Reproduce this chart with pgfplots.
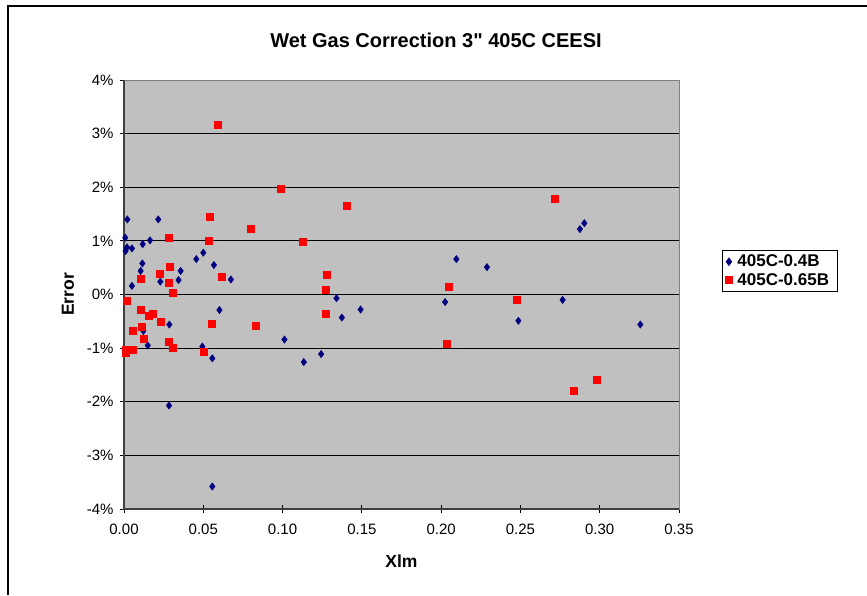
\documentclass[border=0pt]{standalone}
\usepackage{pgfplots}
\pgfplotsset{compat=1.18}
\usepackage{fontspec}
\setmainfont{Liberation Sans}[Ligatures=TeXOff]
\definecolor{plotbg}{HTML}{C0C0C0}
\definecolor{navyblue}{HTML}{000080}
\definecolor{borderg}{HTML}{808080}
\begin{document}
\begin{tikzpicture}
\useasboundingbox (0pt,0pt) rectangle (867pt,-595pt);
\draw[line width=2pt] (8pt,-595pt) -- (8pt,-6pt) -- (867pt,-6pt);
\node[font=\fontsize{20}{24}\selectfont\bfseries] at (436pt,-40pt) {Wet Gas Correction 3" 405C CEESI};
\begin{axis}[
  at={(124pt,-509pt)}, anchor=south west,
  scale only axis, width=555pt, height=429pt,
  xmin=0, xmax=0.35, ymin=-4, ymax=4,
  xtick={0,0.05,...,0.35}, ytick={-4,-3,...,4},
  xtick pos=bottom, ytick pos=left,
  tick align=center, major tick length=8pt,
  tick style={black, line width=0.8pt},
  axis background/.style={fill=plotbg},
  axis line style={draw=borderg, line width=1pt},
  ymajorgrids, major grid style={black, line width=0.9pt},
  /pgf/number format/assume math mode=true,
  ticklabel style={font=\fontsize{15}{18}\selectfont},
  xticklabel style={yshift=-7pt},
  yticklabel style={xshift=-3pt},
  xticklabel={\pgfmathprintnumber[fixed,fixed zerofill,precision=2]{\tick}},
  yticklabel={\pgfmathprintnumber[fixed,precision=0]{\tick}\%},
  xlabel={Xlm}, ylabel={Error},
  label style={font=\fontsize{17.5}{20}\selectfont\bfseries},
  xlabel style={at={(axis description cs:0.5,-0.121)}, anchor=center},
  ylabel style={at={(axis description cs:-0.101,0.5)}, anchor=center},
  legend style={at={(axis description cs:1.0775,0.555)}, anchor=west,
    draw=black, line width=0.8pt, fill=white, font=\fontsize{17}{20}\selectfont\bfseries,
    inner xsep=3pt, inner ysep=3pt, row sep=1pt,
    nodes={inner xsep=5pt, inner ysep=2pt}},
  legend image post style={xshift=2pt},
  legend cell align=left,
  clip=false,
]
\addplot[only marks, mark=diamond*, mark size=3.7pt, color=navyblue] coordinates {
(0.0021,1.40) (0.0216,1.40) (0.0008,1.06) (0.0019,0.88) (0.0010,0.81)
(0.0050,0.86) (0.0118,0.94) (0.0164,1.01) (0.0116,0.58) (0.0105,0.44)
(0.0050,0.16) (0.0229,0.24) (0.0357,0.44) (0.0344,0.27) (0.0456,0.66)
(0.0500,0.78) (0.0567,0.55) (0.0674,0.28) (0.0602,-0.29) (0.0286,-0.56)
(0.0122,-0.68) (0.0150,-0.95) (0.0494,-0.97) (0.0557,-1.19) (0.0284,-2.07)
(0.0557,-3.58) (0.1340,-0.07) (0.1374,-0.43) (0.1492,-0.28) (0.1012,-0.84)
(0.1243,-1.11) (0.1134,-1.26) (0.2903,1.33) (0.2875,1.22) (0.2096,0.66)
(0.2289,0.51) (0.2025,-0.14) (0.2766,-0.10) (0.2487,-0.49) (0.3256,-0.56)
};
\addlegendentry{405C-0.4B}
\addplot[only marks, mark=square*, mark size=3.5pt, color=red] coordinates {
(0.0588,3.17) (0.0542,1.45) (0.0796,1.22) (0.0284,1.06) (0.0536,1.00)
(0.0288,0.52) (0.0227,0.39) (0.0103,0.29) (0.0280,0.22) (0.0305,0.04)
(0.0618,0.34) (0.0017,-0.12) (0.0107,-0.28) (0.0158,-0.39) (0.0183,-0.36)
(0.0233,-0.50) (0.0057,-0.67) (0.0110,-0.60) (0.0122,-0.83) (0.0550,-0.55)
(0.0828,-0.58) (0.0285,-0.88) (0.0310,-0.99) (0.0010,-1.02) (0.0010,-1.08)
(0.0057,-1.02) (0.0502,-1.06) (0.0991,1.97) (0.1405,1.65) (0.1124,0.99)
(0.1281,0.37) (0.1273,0.09) (0.1273,-0.35) (0.2718,1.78) (0.2046,0.15)
(0.2476,-0.10) (0.2033,-0.92) (0.2978,-1.59) (0.2837,-1.80)
};
\addlegendentry{405C-0.65B}
\draw[line width=1.6pt, draw=black!75] (rel axis cs:0,1) -- (rel axis cs:0,0) -- (rel axis cs:1,0);
\end{axis}
\end{tikzpicture}
\end{document}
